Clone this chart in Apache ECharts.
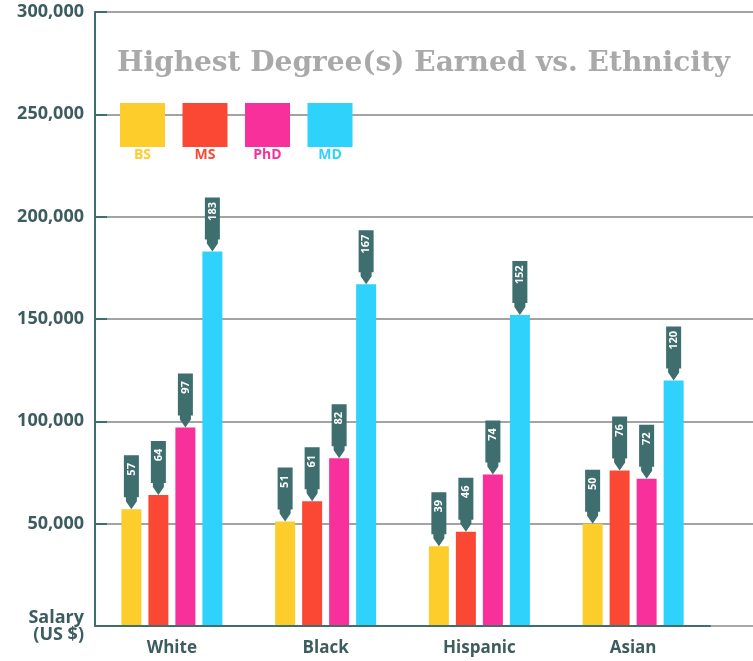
<!doctype html>
<html>
<head>
    <meta charset="utf-8">
    <script src="https://cdn.jsdelivr.net/npm/echarts/dist/echarts.min.js"></script>
    <style>
        body { margin: 0; background: #fff; }
        #chart { width: 753px; height: 661px; }
    </style>
</head>
<body>
<div id="chart"></div>
<script type="text/javascript">
    // 数据
    var ethnicities = ['White', 'Black', 'Hispanic', 'Asian'];
    var degrees = ['BS', 'MS', 'PhD', 'MD'];
    var bsSalary = [57000, 51000, 39000, 50000];
    var msSalary = [64000, 61000, 46000, 76000];
    var phdSalary = [97000, 82000, 74000, 72000];
    var mdSalary = [183000, 167000, 152000, 120000];
    var colors = ['#fdcd2c', '#fb4834', '#f8309b', '#2ed2fb'];

    var teal = '#3e6e6e';
    var textColor = '#3d5c60';
    var labelFont = '"Open Sans", sans-serif';

    // 标签的“图钉”形状
    var pinPath = 'path://M0,0 H15 V42 H13 V46 L7.5,54 L2,46 V42 H0 Z';

    function makeSeries(name, values, color) {
        return {
            name: name,
            type: 'bar',
            xAxisIndex: 0,
            yAxisIndex: 0,
            data: values,
            barWidth: 20,
            barGap: '35%',
            itemStyle: { color: color },
            markPoint: {
                symbol: pinPath,
                symbolSize: [15, 54],
                symbolOffset: [0, -27],
                symbolKeepAspect: false,
                itemStyle: { color: teal },
                label: {
                    show: true,
                    position: 'inside',
                    // 旋转后 offset 在局部坐标系中
                    offset: [13, 0],
                    rotate: 90,
                    color: '#ffffff',
                    fontSize: 11,
                    fontWeight: 'bold',
                    fontFamily: labelFont,
                    formatter: function (p) { return String(p.value / 1000); }
                },
                data: values.map(function (v, i) {
                    return { coord: [i, v], value: v };
                })
            }
        };
    }

    var chart = echarts.init(document.getElementById('chart'));
    var option = {
        animation: false,
        title: {
            text: 'Highest Degree(s) Earned vs. Ethnicity',
            left: 117,
            top: 50,
            padding: 0,
            textStyle: {
                fontFamily: '"DejaVu Serif", serif',
                fontWeight: 'bold',
                fontSize: 28,
                color: '#a9a9a9'
            }
        },
        legend: {
            data: degrees,
            left: 120,
            top: 103,
            padding: 0,
            icon: 'rect',
            itemWidth: 45,
            itemHeight: 44,
            itemGap: 17.5,
            formatter: function () { return ''; },
            textStyle: { fontSize: 1 }
        },
        graphic: degrees.map(function (d, i) {
            return {
                type: 'text',
                x: 142.5 + i * 62.5,
                y: 148,
                style: {
                    text: d,
                    fill: colors[i],
                    font: 'bold 14px ' + labelFont,
                    textAlign: 'center'
                }
            };
        }),
        color: colors,
        grid: [
            { left: 95, right: 43, top: 12, bottom: 35 },
            { left: 95, right: 0, top: 12, bottom: 35 }
        ],
        xAxis: [{
            type: 'category',
            gridIndex: 0,
            data: ethnicities,
            axisLine: { lineStyle: { color: teal, width: 2 } },
            axisTick: { inside: true, length: 15, lineStyle: { color: teal, width: 2 } },
            axisLabel: {
                color: textColor,
                fontSize: 17,
                fontWeight: 'bold',
                fontFamily: labelFont,
                margin: 14
            },
            z: 3
        }, {
            type: 'category',
            gridIndex: 1,
            data: ethnicities,
            axisLine: { lineStyle: { color: '#a8a8a8', width: 2 } },
            axisTick: { show: false },
            axisLabel: { show: false }
        }],
        yAxis: [{
            type: 'value',
            gridIndex: 0,
            min: 0,
            max: 300000,
            interval: 50000,
            axisLine: { show: true, lineStyle: { color: teal, width: 2 } },
            axisTick: { show: true, inside: true, length: 12, lineStyle: { color: teal, width: 2 } },
            splitLine: { show: false },
            axisLabel: {
                color: textColor,
                fontSize: 18,
                fontWeight: 'bold',
                fontFamily: labelFont,
                margin: 11,
                lineHeight: 17,
                formatter: function (v) {
                    if (v === 0) return 'Salary\n(US $)';
                    return v.toLocaleString('en-US');
                }
            },
            z: 3
        }, {
            type: 'value',
            gridIndex: 1,
            min: 0,
            max: 300000,
            interval: 50000,
            axisLine: { show: false },
            axisTick: { show: false },
            axisLabel: { show: false },
            splitLine: { lineStyle: { color: '#a3a3a3', width: 2 } }
        }],
        series: [
            makeSeries('BS', bsSalary, colors[0]),
            makeSeries('MS', msSalary, colors[1]),
            makeSeries('PhD', phdSalary, colors[2]),
            makeSeries('MD', mdSalary, colors[3])
        ]
    };
    chart.setOption(option);
</script>
</body>
</html>
